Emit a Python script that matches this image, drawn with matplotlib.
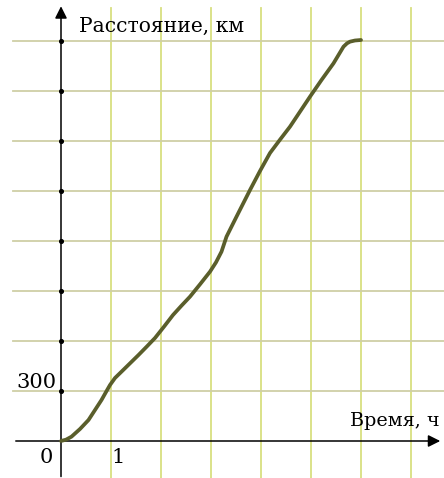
import matplotlib.pyplot as plt

# distance vs time
time_h = [0, 0.1, 0.21, 0.38, 0.55, 0.68, 0.81, 0.9, 0.98, 1.08, 1.21, 1.38,
          1.55, 1.72, 1.88, 2.06, 2.24, 2.41, 2.58, 2.78, 2.98, 3.1,
          3.21, 3.31, 3.51, 3.78, 3.98, 4.18, 4.38, 4.58, 4.78, 4.98, 5.21,
          5.45, 5.65, 5.72, 5.78, 5.88, 6.0]
dist_km = [0, 8, 26, 72, 126, 186, 246, 294, 336, 378, 416, 466,
           516, 568, 618, 686, 756, 812, 866, 940, 1016, 1072,
           1136, 1226, 1346, 1506, 1620, 1728, 1808, 1886, 1976, 2066, 2166,
           2266, 2366, 2386, 2396, 2403, 2406]

x_grid = [1, 2, 3, 4, 5, 6, 7]
y_grid = [300, 600, 900, 1200, 1500, 1800, 2100, 2400]
x_ticklabels = {0: "0", 1: "1"}
y_ticklabels = {300: "300"}

serif = ["DejaVu Serif"]

fig = plt.figure(figsize=(4.44, 4.78), dpi=100)
fig.patch.set_facecolor("white")
ax = fig.add_axes([0, 0, 1, 1])
ax.set_facecolor("#fffef6")
ax.set_xlim(-1.22, 7.66)
ax.set_ylim(-222, 2646)
ax.axis("off")

# grid
for x in x_grid:
    ax.plot([x, x], [-300, 2600], color="#d8df80", lw=1.3, zorder=1)
for y in y_grid:
    ax.plot([-0.96, 8], [y, y], color="#cfcfa6", lw=1.3, zorder=1)

# axes with arrows
ax.annotate("", xy=(7.64, 0), xytext=(-0.96, 0),
            arrowprops=dict(arrowstyle="-|>", color="black", lw=1.1,
                            mutation_scale=18), zorder=3)
ax.annotate("", xy=(0, 2625), xytext=(0, -230),
            arrowprops=dict(arrowstyle="-|>", color="black", lw=1.1,
                            mutation_scale=18), zorder=3)
ax.scatter([0] * len(y_grid), y_grid, s=7, color="black", zorder=4)

# curve
ax.plot(time_h, dist_km, color="#5a5e2b", lw=2.7, solid_capstyle="round",
        solid_joinstyle="round", zorder=5)

# labels
ax.text(0.36, 2490, "Расстояние, км", family=serif, fontsize=14.6,
        va="center", ha="left")
ax.text(5.79, 120, "Время, ч", family=serif, fontsize=13.8,
        va="center", ha="left")
for v, s in y_ticklabels.items():
    ax.text(-0.08, v + 54, s, family=serif, fontsize=15, va="center",
            ha="right")
for v, s in x_ticklabels.items():
    xpos = -0.3 if v == 0 else v + 0.14
    ax.text(xpos, -100, s, family=serif, fontsize=15, va="center",
            ha="center")

fig.savefig("out.png", dpi=100)
